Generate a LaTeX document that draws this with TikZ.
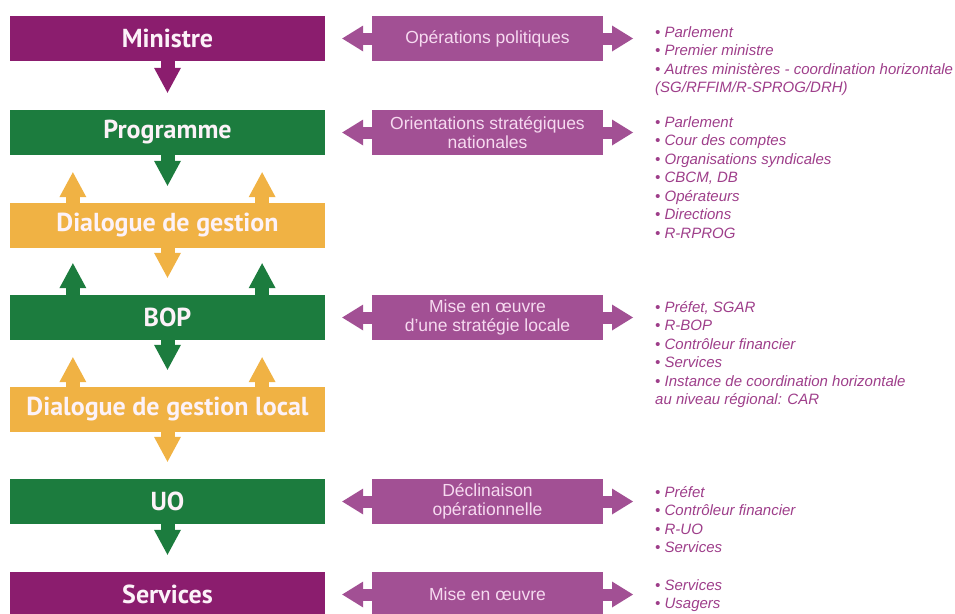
\documentclass[tikz,border=0pt]{standalone}
\usepackage{fontspec}
\setmainfont{Liberation Sans}
\newfontfamily\boxfont{PT Sans}
\usetikzlibrary{arrows.meta,calc}

\definecolor{plum}{RGB}{139,29,110}
\definecolor{mauve}{RGB}{162,80,148}
\definecolor{leaf}{RGB}{28,124,62}
\definecolor{sand}{RGB}{240,178,68}
\definecolor{listink}{RGB}{158,62,138}
\definecolor{pinkink}{RGB}{246,218,240}
\definecolor{boxink}{RGB}{252,242,248}

\tikzset{
  level/.style={minimum width=315pt,minimum height=45pt,inner sep=0pt,
    font=\boxfont\bfseries\fontsize{26}{28}\selectfont,text=boxink},
  role/.style={fill=mauve,minimum width=231pt,minimum height=45pt,inner sep=0pt,
    align=center,font=\fontsize{17.5}{19}\selectfont,text=pinkink},
  who/.style={anchor=north west,inner sep=0pt,align=left,text=listink,
    font=\itshape\fontsize{15}{18.5}\selectfont},
  blockarrow/.style={line width=14pt,shorten >=17pt,
    -{Triangle[width=27pt,length=25pt,line width=0pt]}},
  sidearrow/.style={mauve,line width=12pt,
    -{Triangle[width=26pt,length=21pt,line width=0pt]}},
}

\begin{document}
\begin{tikzpicture}[x=1pt,y=-1pt]
    \useasboundingbox (0,0) rectangle (955,613);
    %% left column
    \node[level,fill=plum] (min) at (167.5,38.5) {Ministre};
    \node[level,fill=leaf] (prog) at (167.5,132.5) {Programme};
    \node[level,fill=sand] (dial) at (167.5,225.5) {Dialogue de gestion};
    \node[level,fill=leaf] (bop) at (167.5,317.5) {BOP};
    \node[level,fill=sand] (dloc) at (167.5,409.5) {Dialogue de gestion local};
    \node[level,fill=leaf] (uo) at (167.5,501.5) {UO};
    \node[level,fill=plum] (serv) at (167.5,594.5) {Services};

    \draw[blockarrow,plum] (min.south) -- (prog.north);
    \draw[blockarrow,leaf] (prog.south) -- (dial.north);
    \draw[blockarrow,sand] (dial.south) -- (bop.north);
    \draw[blockarrow,leaf] (bop.south) -- (dloc.north);
    \draw[blockarrow,sand] (dloc.south) -- (uo.north);
    \draw[blockarrow,leaf] (uo.south) -- (serv.north);
    %% feedback arrows
    \foreach \f in {0.2,0.8} {
        \draw[blockarrow,sand] ($(dial.north west)!\f!(dial.north east)$) -- ($(prog.south west)!\f!(prog.south east)$);
        \draw[blockarrow,leaf,shorten >=15pt] ($(bop.north west)!\f!(bop.north east)$) -- ($(dial.south west)!\f!(dial.south east)$);
        \draw[blockarrow,sand] ($(dloc.north west)!\f!(dloc.north east)$) -- ($(bop.south west)!\f!(bop.south east)$);
    }

    %% middle column
    \node[role] (op1) at (487.5,38.5) {Opérations politiques};
    \node[role] (op2) at (487.5,132.5) {Orientations stratégiques\\nationales};
    \node[role] (op3) at (487.5,317.5) {Mise en œuvre\\d’une stratégie locale};
    \node[role] (op4) at (487.5,501.5) {Déclinaison\\opérationnelle};
    \node[role] (op5) at (487.5,594.5) {Mise en œuvre};

    \draw[sidearrow,shorten >=17pt] (op1.west) -- (min.east);
    \draw[sidearrow,shorten >=17pt] (op2.west) -- (prog.east);
    \draw[sidearrow,shorten >=17pt] (op3.west) -- (bop.east);
    \draw[sidearrow,shorten >=17pt] (op4.west) -- (uo.east);
    \draw[sidearrow,shorten >=17pt] (op5.west) -- (serv.east);

    \coordinate (t1) at (633,38.5);
    \coordinate (t2) at (633,132.5);
    \coordinate (t3) at (633,317.5);
    \coordinate (t4) at (633,501.5);
    \coordinate (t5) at (633,594.5);
    \draw[sidearrow] (op1.east) -- (t1);
    \draw[sidearrow] (op2.east) -- (t2);
    \draw[sidearrow] (op3.east) -- (t3);
    \draw[sidearrow] (op4.east) -- (t4);
    \draw[sidearrow] (op5.east) -- (t5);

    %% who is involved
    \node[who] (w1) at (655,23) {\rule{0pt}{14pt}• Parlement\\• Premier ministre\\• Autres ministères - coordination horizontale\\(SG/RFFIM/R-SPROG/DRH)};
    \node[who] (w2) at (655,113) {\rule{0pt}{14pt}• Parlement\\• Cour des comptes\\• Organisations syndicales\\• CBCM, DB\\• Opérateurs\\• Directions\\• R-RPROG};
    \node[who] (w3) at (655,298) {\rule{0pt}{14pt}• Préfet, SGAR\\• R-BOP\\• Contrôleur financier\\• Services\\• Instance de coordination horizontale\\au niveau régional: CAR};
    \node[who] (w4) at (655,483) {\rule{0pt}{14pt}• Préfet\\• Contrôleur financier\\• R-UO\\• Services};
    \node[who] (w5) at (655,576) {\rule{0pt}{14pt}• Services\\• Usagers};
\end{tikzpicture}
\end{document}
